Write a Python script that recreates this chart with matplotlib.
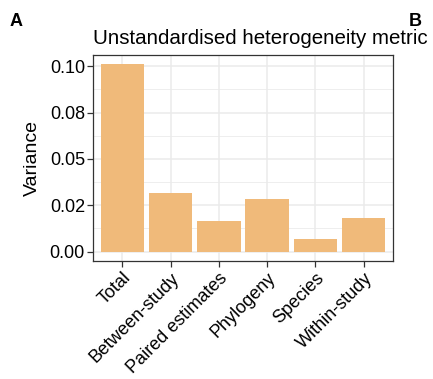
import matplotlib.pyplot as plt
from matplotlib.ticker import FixedLocator, FixedFormatter

plt.rcParams['font.family'] = ['Liberation Sans', 'DejaVu Sans']

components = ["Total", "Between-study", "Paired estimates", "Phylogeny",
              "Species", "Within-study"]
variance = [0.101, 0.0318, 0.0166, 0.0286, 0.0070, 0.0184]
y_ticks = [0.0, 0.025, 0.05, 0.075, 0.1]
y_labels = ["0.00", "0.02", "0.05", "0.08", "0.10"]
y_minor = [0.0125, 0.0375, 0.0625, 0.0875]

fig = plt.figure(figsize=(4.33, 3.79), dpi=100)
ax = fig.add_axes([0.2155, 0.3113, 0.6915, 0.5436])

x = list(range(len(components)))
ax.bar(x, variance, width=0.9, color="#F0BA7A", zorder=3)

ax.set_xlim(-0.6, len(components) - 0.4)
ax.set_ylim(-0.00505, 0.106)

ax.yaxis.set_major_locator(FixedLocator(y_ticks))
ax.yaxis.set_major_formatter(FixedFormatter(y_labels))
ax.yaxis.set_minor_locator(FixedLocator(y_minor))
ax.set_xticks(x)
ax.set_xticklabels(components, rotation=45, ha="right", va="top",
                   rotation_mode="anchor", fontsize=13)

# light theme_bw style grid
ax.grid(which="major", color="#EBEBEB", linewidth=1.1, zorder=0)
ax.grid(which="minor", axis="y", color="#EBEBEB", linewidth=0.6, zorder=0)
ax.set_axisbelow(True)

for s in ax.spines.values():
    s.set_color("#333333")
    s.set_linewidth(0.9)
ax.tick_params(which="major", length=4, width=0.9, color="#333333",
               labelsize=13, labelcolor="black", pad=2)
ax.tick_params(which="minor", length=0)

ax.set_ylabel("Variance", fontsize=14, labelpad=6)
ax.set_title("Unstandardised heterogeneity metric", fontsize=14.8,
             loc="left", pad=8)

# panel letters, and the edge of the neighbouring panel's axis label
fig.text(0.021, 0.965, "A", fontsize=13, fontweight="bold", va="top")
fig.text(0.944, 0.965, "B", fontsize=13, fontweight="bold", va="top")
fig.text(1.003, 0.59, "$I^2$", fontsize=14, rotation=90, ha="left",
         va="center")

fig.savefig("out.png", dpi=100)
